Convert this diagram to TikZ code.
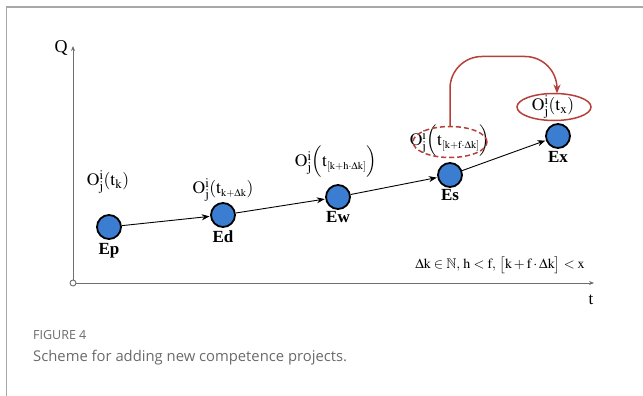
\documentclass[tikz,border=0pt]{standalone}
\usepackage{amssymb}
\usepackage{mathptmx}
\usepackage{fontspec}
\setmainfont{Liberation Serif}
\newfontfamily\capfont{Open Sans}
\usetikzlibrary{
	arrows.meta,
	calc,
	positioning,
	shapes.geometric
}
\definecolor{nodeblue}{HTML}{3B7DD0}
\definecolor{curvered}{HTML}{B5403B}
\definecolor{framegray}{HTML}{A8A8A8}
\definecolor{axisgray}{HTML}{6E6E6E}
\definecolor{capgray}{HTML}{6A6A6A}
\newcommand{\Oij}[1]{\mathrm{O}_{\mathrm{j}}^{\mathrm{i}}#1}
\newcommand{\tsub}[1]{\mathrm{t}_{\scriptscriptstyle\mathrm{#1}}}

\begin{document}
\begin{tikzpicture}[
	x=1pt, y=-1pt,
	>=Stealth,
	stage/.style={
		circle, draw=black, line width=1.8pt, fill=nodeblue,
		minimum size=24pt, inner sep=0pt
	},
	stagename/.style={font=\fontsize{17}{19}\selectfont\bfseries, inner sep=1pt},
	state/.style={font=\fontsize{17.5}{19}\selectfont, inner sep=1pt},
	flow/.style={-{Stealth[length=8pt,width=6pt]}, line width=0.9pt, black, shorten >=0.5pt},
	axis/.style={-{Stealth[length=5pt,width=4pt]}, line width=0.9pt, axisgray},
	redring/.style={draw=curvered, line width=1.5pt}
	]
	
	\useasboundingbox (0,0) rectangle (643,396);
	
	% frame of the figure box
	\draw[framegray, line width=1.6pt] (6,7) -- (643,7);
	\draw[framegray, line width=0.8pt] (6,7) -- (6,396);
	
	% --- Axes ---
	\coordinate (origin) at (73,283);
	\coordinate (qtop)   at (73,46);
	\coordinate (tend)   at (594,283);
	\draw[axis] (origin) -- (qtop);
	\draw[axis] (origin) -- (tend);
	\draw[axisgray, line width=0.9pt, fill=white] (origin) circle (3pt);
	\node[font=\fontsize{18}{20}\selectfont] (Q) at (61,48) {Q};
	\node[font=\fontsize{17}{19}\selectfont] (t) at (591,300) {t};
	
	% --- Stages ---
	\node[stage] (Ep) at (109,227) {};
	\node[stage] (Ed) at (223,215) {};
	\node[stage] (Ew) at (338,197) {};
	\node[stage] (Es) at (450,175) {};
	\node[stage] (Ex) at (558,136) {};
	
	\node[stagename, below=2pt of Ep] (EpName) {Ep};
	\node[stagename, below=2pt of Ed] (EdName) {Ed};
	\node[stagename, below=0pt of Ew] (EwName) {Ew};
	\node[stagename, below=0pt of Es] (EsName) {Es};
	\node[stagename, below=1pt of Ex] (ExName) {Ex};
	
	% states above the stages
	\node[state] (EpState) at (108,182) {$\Oij{(\mathrm{t}_{\mathrm{k}})}$};
	\node[state] (EdState) at (223,190) {$\Oij{(\tsub{k+\Delta k})}$};
	\node[state] (EwState) at (336,162) {$\Oij{\Big(\tsub{[k+h\cdot\Delta k]}\Big)}$};
	\node[state] (EsState) at (450,141) {$\Oij{\Big(\tsub{[k+f\cdot\Delta k]}\Big)}$};
	\node[state] (ExState) at (553,107) {$\Oij{(\mathrm{t}_{\mathrm{x}})}$};
	\draw[redring, dash pattern=on 5pt off 3pt] (450,142) ellipse (37pt and 15.5pt);
	\draw[redring] (554,107) ellipse (37pt and 13.5pt);
	\coordinate (EsTop) at (450,126.5);
	\coordinate (ExTop) at (557,93.5);
	
	% --- Flow between stages ---
	\draw[flow] (Ep) -- (Ed);
	\draw[flow] (Ed) -- (Ew);
	\draw[flow] (Ew) -- (Es);
	\draw[flow] (Es) -- (Ex);
	
	% jump of the project
	\draw[-{Stealth[length=9pt,width=7pt]}, curvered, line width=1.5pt, rounded corners=32pt]
		(EsTop) |- ([yshift=37pt]ExTop) -- (ExTop);
	
	% condition
	\node[font=\fontsize{14}{16}\selectfont] (cond) at (500,265)
		{$\Delta\mathrm{k}\in\mathbb{N},\, \mathrm{h}<\mathrm{f},\, \big[\mathrm{k}+\mathrm{f}\cdot\Delta\mathrm{k}\big]<\mathrm{x}$};
	
	% caption
	\node[anchor=west, inner sep=0pt, text=capgray, font=\capfont\fontsize{12.5}{14}\selectfont] (figno) at (33,335) {FIGURE 4};
	\node[anchor=west, inner sep=0pt, text=capgray, font=\capfont\fontsize{14.8}{17}\selectfont] (caption) at (33,358) {Scheme for adding new competence projects.};
\end{tikzpicture}
\end{document}
